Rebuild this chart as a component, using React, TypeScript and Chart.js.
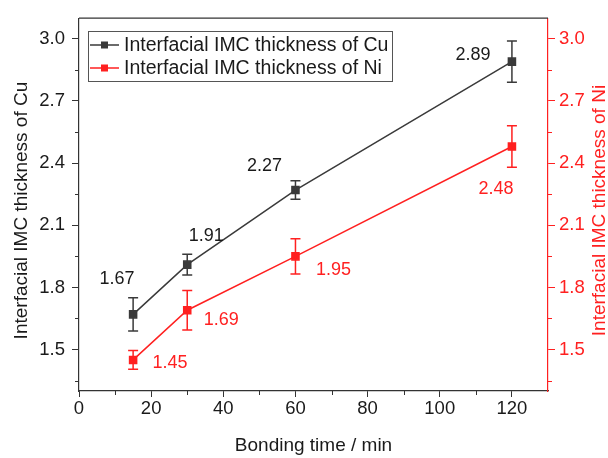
import React, { useEffect, useRef } from 'react';
import { Chart, registerables } from 'chart.js';
Chart.register(...registerables);

const bondingTimes = [15, 30, 60, 120];
const cuThickness = [1.67, 1.91, 2.27, 2.89];
const cuError = [0.08, 0.05, 0.045, 0.1];
const niThickness = [1.45, 1.69, 1.95, 2.48];
const niError = [0.045, 0.095, 0.085, 0.1];
const xTickValues = [0, 20, 40, 60, 80, 100, 120];
const xMinorTicks = [10, 30, 50, 70, 90, 110];
const yTickValues = [1.5, 1.8, 2.1, 2.4, 2.7, 3.0];
const yMinorTicks = [1.35, 1.65, 1.95, 2.25, 2.55, 2.85];
const seriesNames = ['Interfacial IMC thickness of Cu', 'Interfacial IMC thickness of Ni'];
const leftTitle = 'Interfacial IMC thickness of Cu';
const rightTitle = 'Interfacial IMC thickness of Ni';
const xTitle = 'Bonding time / min';

const CU = '#3a3a3a';
const NI = '#ff2020';
const FONT = "'Liberation Sans', Arial, sans-serif";

const labelOffsets = [
  [[-16, -35], [19, -29], [-31, -24], [-39, -7]],
  [[37, 3], [34, 10], [38, 14], [-16, 42]],
];

const overlay = {
  id: 'overlay',
  afterDatasetsDraw(chart: any) {
    const ctx = chart.ctx;
    const x = chart.scales.x;
    const y = chart.scales.y;
    const errs = [cuError, niError];
    const vals = [cuThickness, niThickness];
    const cols = [CU, NI];
    ctx.save();
    for (let d = 0; d < 2; d++) {
      ctx.strokeStyle = cols[d];
      ctx.lineWidth = 1.5;
      for (let i = 0; i < bondingTimes.length; i++) {
        const px = x.getPixelForValue(bondingTimes[i]);
        const top = y.getPixelForValue(vals[d][i] + errs[d][i]);
        const bot = y.getPixelForValue(vals[d][i] - errs[d][i]);
        ctx.beginPath();
        ctx.moveTo(px, top); ctx.lineTo(px, bot);
        ctx.moveTo(px - 5, top); ctx.lineTo(px + 5, top);
        ctx.moveTo(px - 5, bot); ctx.lineTo(px + 5, bot);
        ctx.stroke();
      }
    }
    ctx.font = `18px ${FONT}`;
    ctx.textAlign = 'center';
    ctx.textBaseline = 'middle';
    for (let d = 0; d < 2; d++) {
      ctx.fillStyle = d === 0 ? '#1a1a1a' : NI;
      for (let i = 0; i < bondingTimes.length; i++) {
        const px = x.getPixelForValue(bondingTimes[i]);
        const py = y.getPixelForValue(vals[d][i]);
        const [ox, oy] = labelOffsets[d][i];
        ctx.fillText(vals[d][i].toFixed(2), px + ox, py + oy);
      }
    }
    ctx.restore();
  },
  afterDraw(chart: any) {
    const ctx = chart.ctx;
    const a = chart.chartArea;
    const x = chart.scales.x;
    const y = chart.scales.y;
    ctx.save();
    ctx.lineWidth = 1;
    ctx.strokeStyle = '#333';
    ctx.beginPath();
    for (const v of xMinorTicks) {
      const px = Math.round(x.getPixelForValue(v)) + 0.5;
      ctx.moveTo(px, a.bottom); ctx.lineTo(px, a.bottom + 4);
    }
    for (const v of yMinorTicks) {
      const py = Math.round(y.getPixelForValue(v)) + 0.5;
      ctx.moveTo(a.left, py); ctx.lineTo(a.left - 4, py);
    }
    ctx.stroke();
    ctx.strokeStyle = NI;
    ctx.beginPath();
    for (const v of yMinorTicks) {
      const py = Math.round(y.getPixelForValue(v)) + 0.5;
      ctx.moveTo(a.right, py); ctx.lineTo(a.right + 4, py);
    }
    ctx.stroke();
    ctx.strokeStyle = '#333';
    ctx.lineWidth = 1.2;
    ctx.beginPath();
    ctx.moveTo(a.left, a.top); ctx.lineTo(a.right, a.top);
    ctx.stroke();
    ctx.font = `19px ${FONT}`;
    ctx.textAlign = 'center';
    ctx.textBaseline = 'middle';
    ctx.fillStyle = '#1a1a1a';
    ctx.fillText(xTitle, (a.left + a.right) / 2, 446);
    const cy = (a.top + a.bottom) / 2 + 6;
    ctx.save();
    ctx.translate(22, cy);
    ctx.rotate(-Math.PI / 2);
    ctx.fillText(leftTitle, 0, 0);
    ctx.restore();
    ctx.save();
    ctx.fillStyle = NI;
    ctx.translate(600, cy);
    ctx.rotate(-Math.PI / 2);
    ctx.fillText(rightTitle, 0, 0);
    ctx.restore();
    ctx.fillStyle = '#fff';
    ctx.fillRect(89, 32, 303, 49);
    ctx.strokeStyle = '#555';
    ctx.lineWidth = 1;
    ctx.strokeRect(88.5, 31.5, 304, 50);
    const rows = [45, 68];
    const cols = [CU, NI];
    ctx.font = `19.5px ${FONT}`;
    for (let i = 0; i < 2; i++) {
      ctx.strokeStyle = cols[i];
      ctx.lineWidth = 1.5;
      ctx.beginPath();
      ctx.moveTo(90, rows[i]); ctx.lineTo(119, rows[i]);
      ctx.stroke();
      ctx.fillStyle = cols[i];
      ctx.fillRect(101, rows[i] - 3.5, 7, 7);
      ctx.fillStyle = '#1a1a1a';
      ctx.textAlign = 'left';
      ctx.fillText(seriesNames[i], 124, rows[i] + 1);
    }
    ctx.restore();
  },
};

export default function App() {
  const ref = useRef<HTMLCanvasElement>(null);
  useEffect(() => {
    document.body.style.margin = '0';
    const tickFont = { family: FONT, size: 18.5 };
    const chart = new Chart(ref.current!, {
      type: 'line',
      data: {
        datasets: [
          {
            label: seriesNames[0],
            data: bondingTimes.map((t, i) => ({ x: t, y: cuThickness[i] })),
            borderColor: CU,
            backgroundColor: CU,
            borderWidth: 1.5,
            pointStyle: 'rect',
            pointRadius: 5,
            yAxisID: 'y',
          },
          {
            label: seriesNames[1],
            data: bondingTimes.map((t, i) => ({ x: t, y: niThickness[i] })),
            borderColor: NI,
            backgroundColor: NI,
            borderWidth: 1.5,
            pointStyle: 'rect',
            pointRadius: 5,
            yAxisID: 'y2',
          },
        ],
      },
      options: {
        responsive: false,
        animation: false,
        layout: { padding: { top: 12, left: 0, right: 0, bottom: 0 } },
        plugins: { legend: { display: false }, tooltip: { enabled: false } },
        scales: {
          x: {
            type: 'linear',
            min: 0,
            max: 130,
            afterBuildTicks: (s: any) => { s.ticks = xTickValues.map((v) => ({ value: v })); },
            afterFit: (s: any) => { s.height = 67; },
            ticks: { font: tickFont, color: '#1a1a1a', padding: 1 },
            grid: { display: true, drawOnChartArea: false, tickLength: 6, color: '#333' },
            border: { color: '#333', width: 1.2 },
          },
          y: {
            type: 'linear',
            position: 'left',
            min: 1.3,
            max: 3.1,
            afterBuildTicks: (s: any) => { s.ticks = yTickValues.map((v) => ({ value: v })); },
            afterFit: (s: any) => { s.width = 79; },
            ticks: { font: tickFont, color: '#1a1a1a', padding: 7, callback: (v: any) => Number(v).toFixed(1) },
            grid: { display: true, drawOnChartArea: false, tickLength: 7, color: '#333' },
            border: { color: '#333', width: 1.2 },
          },
          y2: {
            type: 'linear',
            position: 'right',
            min: 1.3,
            max: 3.1,
            afterBuildTicks: (s: any) => { s.ticks = yTickValues.map((v) => ({ value: v })); },
            afterFit: (s: any) => { s.width = 60; },
            ticks: { font: tickFont, color: NI, padding: 4, callback: (v: any) => Number(v).toFixed(1) },
            grid: { display: true, drawOnChartArea: false, tickLength: 7, color: NI },
            border: { color: NI, width: 1.2 },
          },
        },
      },
      plugins: [overlay],
    } as any);
    return () => chart.destroy();
  }, []);
  return (
    <div style={{ position: 'fixed', left: 0, top: 0, width: 608, height: 458, background: '#fff' }}>
      <canvas ref={ref} width={608} height={458} />
    </div>
  );
}
